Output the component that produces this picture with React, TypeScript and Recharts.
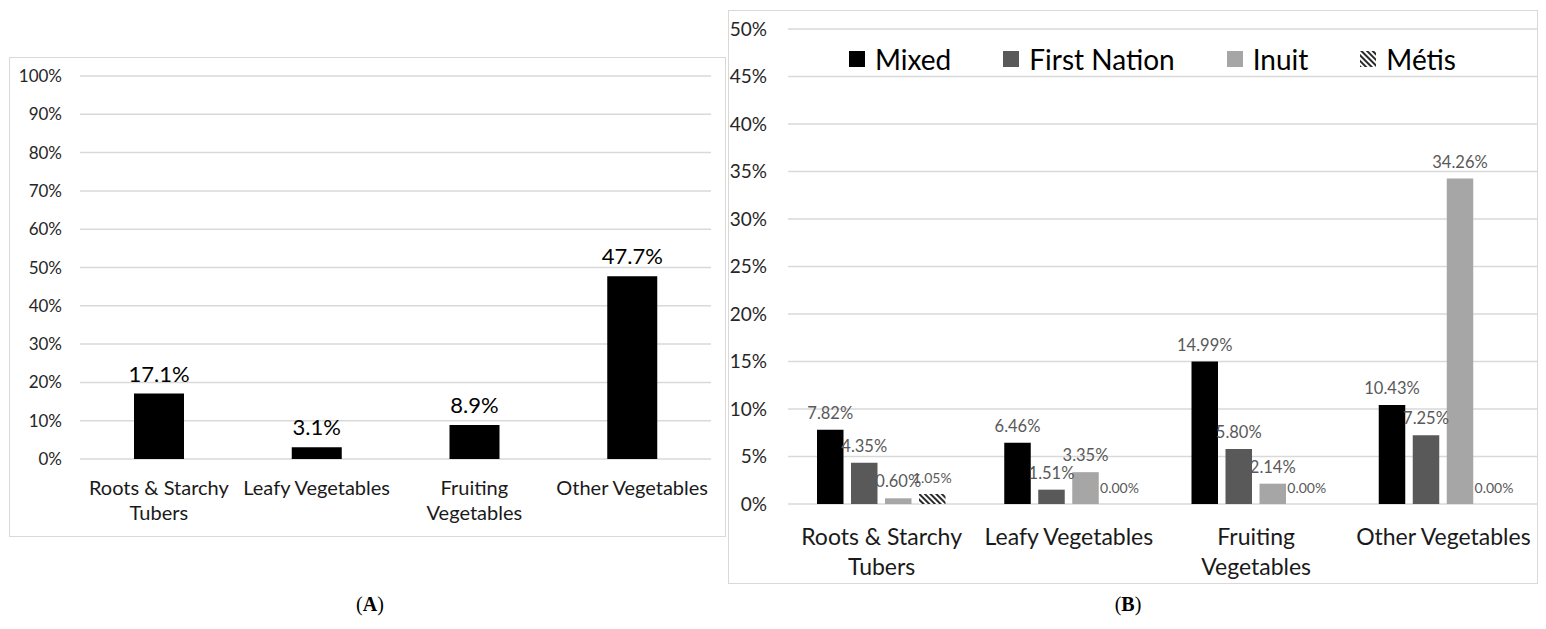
import React from "react";
import { BarChart, Bar, XAxis, YAxis, CartesianGrid, LabelList } from "recharts";

// categories shared by both panels ("\n" marks the line break used on the axis)
const categories = [
  "Roots & Starchy\nTubers",
  "Leafy Vegetables",
  "Fruiting\nVegetables",
  "Other Vegetables",
];

// panel A: overall share
const overallValues = [17.1, 3.1, 8.9, 47.7];
const ticksA = [0, 10, 20, 30, 40, 50, 60, 70, 80, 90, 100];

// panel B: by group
const mixedValues = [7.82, 6.46, 14.99, 10.43];
const firstNationValues = [4.35, 1.51, 5.8, 7.25];
const inuitValues = [0.6, 3.35, 2.14, 34.26];
const metisValues = [1.05, 0.0, 0.0, 0.0];
const ticksB = [0, 5, 10, 15, 20, 25, 30, 35, 40, 45, 50];

const seriesB = [
  { key: "mixed", name: "Mixed", values: mixedValues, fill: "#000000" },
  { key: "firstNation", name: "First Nation", values: firstNationValues, fill: "#595959" },
  { key: "inuit", name: "Inuit", values: inuitValues, fill: "#a6a6a6" },
  { key: "metis", name: "Métis", values: metisValues, fill: "url(#metisStripes)" },
];

const dataA = categories.map((name, i) => ({ name, value: overallValues[i] }));
const dataB = categories.map((name, i) => {
  const row: Record<string, string | number> = { name };
  seriesB.forEach((s) => (row[s.key] = s.values[i]));
  return row;
});

const FONT = "Lato, 'Open Sans', sans-serif";
const GRID = "#d9d9d9";

function makeCategoryTick(fontSize: number, firstLine: number, lineGap: number) {
  return (props: any) => {
    const { x, y, payload } = props;
    const lines = String(payload.value).split("\n");
    return (
      <text x={x} y={y} textAnchor="middle" fill="#1a1a1a" fontSize={fontSize} fontFamily={FONT}>
        {lines.map((line, i) => (
          <tspan key={i} x={x} dy={i === 0 ? firstLine : lineGap}>
            {line}
          </tspan>
        ))}
      </text>
    );
  };
}

function StripeDefs({ id }: { id: string }) {
  return (
    <defs>
      <pattern id={id} width="4" height="4" patternUnits="userSpaceOnUse" patternTransform="rotate(-45)">
        <rect width="4" height="4" fill="#ffffff" />
        <line x1="1" y1="0" x2="1" y2="4" stroke="#2a2a2a" strokeWidth="2" />
      </pattern>
    </defs>
  );
}

function PanelA() {
  return (
    <BarChart
      width={715}
      height={478}
      data={dataA}
      margin={{ top: 18, right: 14, bottom: 0, left: 0 }}
    >
      <CartesianGrid vertical={false} stroke={GRID} strokeWidth={1.5} />
      <XAxis
        dataKey="name"
        axisLine={false}
        tickLine={false}
        interval={0}
        height={77}
        tickSize={0}
        tickMargin={0}
        tick={makeCategoryTick(20, 36, 25)}
      />
      <YAxis
        width={70}
        domain={[0, 100]}
        ticks={ticksA}
        axisLine={false}
        tickLine={false}
        tickSize={0}
        tickMargin={18}
        tickFormatter={(v) => `${v}%`}
        tick={{ fontSize: 17, fill: "#262626", fontFamily: FONT }}
      />
      <Bar dataKey="value" fill="#000000" barSize={50} isAnimationActive={false}>
        <LabelList
          dataKey="value"
          position="top"
          offset={12}
          formatter={(v: any) => `${Number(v).toFixed(1)}%`}
          style={{ fontSize: 22, fill: "#000000", fontFamily: FONT }}
        />
      </Bar>
    </BarChart>
  );
}

function PanelB() {
  return (
    <BarChart
      width={808}
      height={572}
      data={dataB}
      barGap={7.5}
      margin={{ top: 18, right: 0, bottom: 0, left: 0 }}
    >
      <StripeDefs id="metisStripes" />
      <CartesianGrid vertical={false} stroke={GRID} strokeWidth={1.5} />
      <XAxis
        dataKey="name"
        axisLine={false}
        tickLine={false}
        interval={0}
        height={79}
        tickSize={0}
        tickMargin={0}
        tick={makeCategoryTick(23, 41, 30)}
      />
      <YAxis
        width={59}
        domain={[0, 50]}
        ticks={ticksB}
        axisLine={false}
        tickLine={false}
        tickSize={0}
        tickMargin={21}
        tickFormatter={(v) => `${v}%`}
        tick={{ fontSize: 19, fill: "#262626", fontFamily: FONT }}
      />
      {seriesB.map((s) => (
        <Bar
          key={s.key}
          dataKey={s.key}
          name={s.name}
          fill={s.fill}
          barSize={26.5}
          minPointSize={0.01}
          isAnimationActive={false}
        >
          <LabelList
            dataKey={s.key}
            position="top"
            offset={11}
            formatter={(v: any) => `${Number(v).toFixed(2)}%`}
            style={{ fontSize: s.key === "metis" ? 14 : 16.5, fill: "#595959", fontFamily: FONT }}
          />
        </Bar>
      ))}
    </BarChart>
  );
}

function LegendB() {
  return (
    <div
      style={{
        position: "absolute",
        left: 849,
        top: 42,
        display: "flex",
        alignItems: "center",
        fontFamily: FONT,
        fontSize: 28,
        color: "#000",
        whiteSpace: "nowrap",
      }}
    >
      {seriesB.map((s, i) => (
        <div key={s.key} style={{ display: "flex", alignItems: "center", marginRight: i < seriesB.length - 1 ? 52 : 0 }}>
          <svg width={16} height={16} style={{ marginRight: 10 }}>
            <StripeDefs id="metisStripesLegend" />
            <rect
              width={16}
              height={16}
              fill={s.key === "metis" ? "url(#metisStripesLegend)" : s.fill}
            />
          </svg>
          <span>{s.name}</span>
        </div>
      ))}
    </div>
  );
}

export default function App() {
  return (
    <div
      style={{
        position: "absolute",
        left: 0,
        top: 0,
        width: 1546,
        height: 629,
        background: "#ffffff",
        overflow: "hidden",
      }}
    >
      <div
        style={{
          position: "absolute",
          left: 9,
          top: 57,
          width: 717,
          height: 480,
          boxSizing: "border-box",
          border: `1.5px solid ${GRID}`,
        }}
      />
      <div style={{ position: "absolute", left: 10, top: 58 }}>
        <PanelA />
      </div>
      <div
        style={{
          position: "absolute",
          left: 728,
          top: 10,
          width: 810,
          height: 574,
          boxSizing: "border-box",
          border: `1.5px solid ${GRID}`,
        }}
      />
      <div style={{ position: "absolute", left: 729, top: 11 }}>
        <PanelB />
      </div>
      <LegendB />
      <div
        style={{
          position: "absolute",
          left: 340,
          top: 593,
          width: 60,
          textAlign: "center",
          fontFamily: "'Liberation Serif', 'DejaVu Serif', serif",
          fontSize: 20,
          color: "#000",
        }}
      >
        (<b>A</b>)
      </div>
      <div
        style={{
          position: "absolute",
          left: 1098,
          top: 593,
          width: 60,
          textAlign: "center",
          fontFamily: "'Liberation Serif', 'DejaVu Serif', serif",
          fontSize: 20,
          color: "#000",
        }}
      >
        (<b>B</b>)
      </div>
    </div>
  );
}
